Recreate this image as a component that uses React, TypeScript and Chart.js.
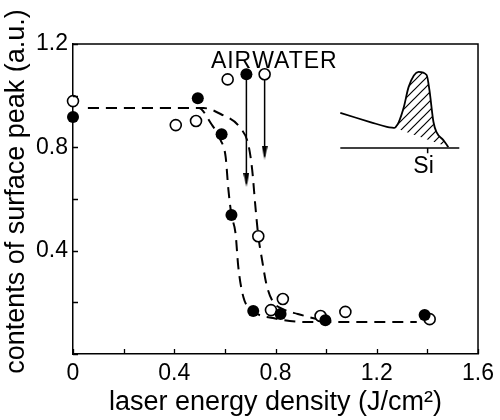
import React, { useEffect, useRef } from 'react';
import { Chart, registerables } from 'chart.js';

Chart.register(...registerables);

// ---- measured data (laser energy density J/cm^2, contents a.u.) ----
const airX = [0, 0.493, 0.587, 0.626, 0.685, 0.712, 0.82, 0.997, 1.389];
const airY = [0.917, 0.99, 0.851, 0.538, 1.083, 0.166, 0.155, 0.131, 0.151];

const waterX = [0, 0.406, 0.486, 0.611, 0.757, 0.732, 0.782, 0.829, 0.978, 1.076, 1.409];
const waterY = [0.979, 0.886, 0.902, 1.063, 1.083, 0.456, 0.17, 0.213, 0.147, 0.163, 0.135];

// dashed guide curves
const airCurveX = [0.059, 0.497, 0.544, 0.583, 0.603, 0.614, 0.626, 0.642, 0.653, 0.673, 0.712, 0.79, 0.927, 1.358];
const airCurveY = [0.952, 0.952, 0.894, 0.828, 0.763, 0.635, 0.538, 0.468, 0.337, 0.221, 0.166, 0.139, 0.124, 0.124];

const waterCurveX = [0.059, 0.516, 0.583, 0.661, 0.693, 0.708, 0.72, 0.732, 0.747, 0.763, 0.786, 0.829, 0.888, 1.0];
const waterCurveY = [0.952, 0.952, 0.929, 0.875, 0.809, 0.712, 0.577, 0.457, 0.364, 0.275, 0.209, 0.174, 0.155, 0.126];

// arrows
const airArrowX = [0.685, 0.685];
const airArrowY = [1.083, 0.66];
const waterArrowX = [0.757, 0.757];
const waterArrowY = [1.083, 0.765];
const arrowHeadX = [0.685, 0.757];
const arrowHeadY = [0.674, 0.78];

// inset spectrum
const specLeftX = [1.056, 1.174, 1.24, 1.272];
const specLeftY = [0.933, 0.898, 0.879, 0.875];
const peakX = [1.272, 1.287, 1.307, 1.326, 1.365, 1.397, 1.408, 1.424, 1.436, 1.463, 1.483];
const peakY = [0.875, 0.898, 0.956, 1.034, 1.092, 1.08, 1.022, 0.898, 0.859, 0.828, 0.801];
const peakBaseX = [1.272, 1.483];
const peakBaseY = [0.875, 0.801];
const insetAxisX = [1.056, 1.526];
const insetAxisY = [0.797, 0.797];
const siTickX = [1.401, 1.401];
const siTickY = [0.797, 0.777];

// text labels
const labelTexts = ['AIR', 'WATER', 'Si'];
const labelX = [0.708, 0.708, 1.385];
const labelY = [1.109, 1.109, 0.724];
const labelAlign: CanvasTextAlign[] = ['right', 'left', 'center'];

// ticks
const xTickValues = [0, 0.4, 0.8, 1.2, 1.6];
const xTickLabels = ['0', '0.4', '0.8', '1.2', '1.6'];
const yTickValues = [0.4, 0.8, 1.2];
const yTickLabels = ['0.4', '0.8', '1.2'];

const xTitle = 'laser energy density (J/cm\u00B2)';
const yTitle = '\u00A0\u00A0contents of surface peak (a.u.)';

const pts = (xs: number[], ys: number[]) => xs.map((x, i) => ({ x, y: ys[i] }));

function makeHatch(): CanvasPattern | string {
  const c = document.createElement('canvas');
  c.width = 9;
  c.height = 9;
  const g = c.getContext('2d')!;
  g.strokeStyle = '#000';
  g.lineWidth = 1.2;
  g.beginPath();
  g.moveTo(0, 9); g.lineTo(9, 0);
  g.moveTo(-4.5, 4.5); g.lineTo(4.5, -4.5);
  g.moveTo(4.5, 13.5); g.lineTo(13.5, 4.5);
  g.stroke();
  const p = c.getContext('2d')!.createPattern(c, 'repeat');
  return p || '#000';
}

function makeArrowHead(): HTMLCanvasElement {
  const c = document.createElement('canvas');
  c.width = 6;
  c.height = 14;
  const g = c.getContext('2d')!;
  g.fillStyle = '#000';
  g.beginPath();
  g.moveTo(0, 0);
  g.lineTo(6, 0);
  g.lineTo(3, 14);
  g.closePath();
  g.fill();
  return c;
}

const labelOf = (v: number, vals: number[], labels: string[]) => {
  const i = vals.findIndex((t) => Math.abs(t - v) < 1e-6);
  return i >= 0 ? labels[i] : '';
};

export default function App() {
  const ref = useRef<HTMLCanvasElement>(null);

  useEffect(() => {
    const canvas = ref.current!;
    const hatch = makeHatch();
    const arrowImg = makeArrowHead();
    Chart.defaults.font.family = '"Liberation Sans", Arial, sans-serif';
    Chart.defaults.color = '#000';

    const dashed = {
      showLine: true,
      borderColor: '#000',
      borderWidth: 2,
      borderDash: [11, 7],
      pointRadius: 0,
      cubicInterpolationMode: 'monotone' as const,
      fill: false,
    };
    const solid = {
      showLine: true,
      borderColor: '#000',
      borderWidth: 1.6,
      pointRadius: 0,
      fill: false,
    };

    const overlay = {
      id: 'overlay',
      afterDraw(chart: any) {
        const { ctx, chartArea: a, scales } = chart;
        ctx.save();
        ctx.strokeStyle = '#000';
        ctx.lineWidth = 1.5;
        ctx.beginPath();
        ctx.moveTo(a.left, a.top);
        ctx.lineTo(a.right, a.top);
        ctx.lineTo(a.right, a.bottom);
        ctx.stroke();
        // inward tick marks from the library's tick positions
        ctx.lineWidth = 1.3;
        ctx.beginPath();
        scales.x.ticks.forEach((t: any) => {
          const px = Math.round(scales.x.getPixelForValue(t.value)) + 0.5;
          ctx.moveTo(px, a.bottom);
          ctx.lineTo(px, a.bottom - 5);
        });
        scales.y.ticks.forEach((t: any) => {
          const py = Math.round(scales.y.getPixelForValue(t.value)) + 0.5;
          ctx.moveTo(a.left, py);
          ctx.lineTo(a.left + 5, py);
        });
        ctx.stroke();
        ctx.fillStyle = '#000';
        ctx.font = '23px "Liberation Sans", Arial, sans-serif';
        labelTexts.forEach((t, i) => {
          ctx.textAlign = labelAlign[i];
          const px = scales.x.getPixelForValue(labelX[i]);
          const py = scales.y.getPixelForValue(labelY[i]);
          ctx.textBaseline = t === 'Si' ? 'middle' : 'alphabetic';
          (ctx as any).letterSpacing = t === 'Si' ? '0px' : '1px';
          ctx.fillText(t, px, py);
        });
        ctx.restore();
      },
    };

    const chart = new Chart(canvas, {
      type: 'line',
      data: {
        datasets: [
          {
            label: 'air',
            data: pts(airX, airY),
            showLine: false,
            pointRadius: 6,
            pointBackgroundColor: '#000',
            pointBorderColor: '#000',
            pointBorderWidth: 0,
            clip: false,
          } as any,
          {
            label: 'water',
            data: pts(waterX, waterY),
            showLine: false,
            pointRadius: 5.5,
            pointBackgroundColor: '#fff',
            pointBorderColor: '#000',
            pointBorderWidth: 1.6,
            clip: false,
          },
          {
            label: 'arrowheads',
            data: pts(arrowHeadX, arrowHeadY),
            showLine: false,
            pointStyle: arrowImg as any,
            pointRadius: 7,
          },
          { label: 'airArrow', data: pts(airArrowX, airArrowY), ...solid, borderWidth: 1.5 },
          { label: 'waterArrow', data: pts(waterArrowX, waterArrowY), ...solid, borderWidth: 1.5 },
          { label: 'airCurve', data: pts(airCurveX, airCurveY), ...dashed },
          { label: 'waterCurve', data: pts(waterCurveX, waterCurveY), ...dashed },
          { label: 'specLeft', data: pts(specLeftX, specLeftY), ...solid, borderWidth: 1.8, tension: 0.4 },
          {
            label: 'peak',
            data: pts(peakX, peakY),
            ...solid,
            borderWidth: 1.8,
            cubicInterpolationMode: 'monotone',
            fill: { target: 9 },
            backgroundColor: hatch as any,
          },
          { label: 'peakBase', data: pts(peakBaseX, peakBaseY), ...solid, borderWidth: 0 },
          { label: 'insetAxis', data: pts(insetAxisX, insetAxisY), ...solid, borderWidth: 1.5 },
          { label: 'siTick', data: pts(siTickX, siTickY), ...solid, borderWidth: 1.5 },
        ],
      },
      options: {
        animation: false,
        responsive: true,
        maintainAspectRatio: false,
        layout: { padding: { top: 44, right: 18, left: 0, bottom: 0 } },
        plugins: { legend: { display: false }, tooltip: { enabled: false } },
        events: [],
        scales: {
          x: {
            type: 'linear',
            min: 0,
            max: 1.6,
            afterFit: (s: any) => { s.height = 66; },
            ticks: {
              stepSize: 0.2,
              autoSkip: false,
              maxRotation: 0,
              padding: 6,
              font: { size: 23 },
              color: '#000',
              callback: (v: any) => labelOf(Number(v), xTickValues, xTickLabels),
            },
            grid: { drawOnChartArea: false, drawTicks: false },
            border: { display: true, color: '#000', width: 1.5 },
            title: {
              display: true,
              text: xTitle,
              font: { size: 27 },
              color: '#000',
              padding: { top: 0, bottom: 1 },
            },
          },
          y: {
            type: 'linear',
            min: 0,
            max: 1.2,
            afterFit: (s: any) => { s.width = 73; },
            ticks: {
              stepSize: 0.2,
              autoSkip: false,
              padding: 5,
              font: { size: 23 },
              color: '#000',
              callback: (v: any) => labelOf(Number(v), yTickValues, yTickLabels),
            },
            grid: { drawOnChartArea: false, drawTicks: false },
            border: { display: true, color: '#000', width: 1.5 },
            title: {
              display: true,
              text: yTitle,
              font: { size: 27 },
              color: '#000',
              padding: { top: 0, bottom: 0 },
            },
          },
        },
      },
      plugins: [overlay],
    } as any);

    return () => chart.destroy();
  }, []);

  return (
    <div style={{ position: 'fixed', left: 0, top: 0, width: 500, height: 420, background: '#fff' }}>
      <canvas ref={ref} />
    </div>
  );
}
